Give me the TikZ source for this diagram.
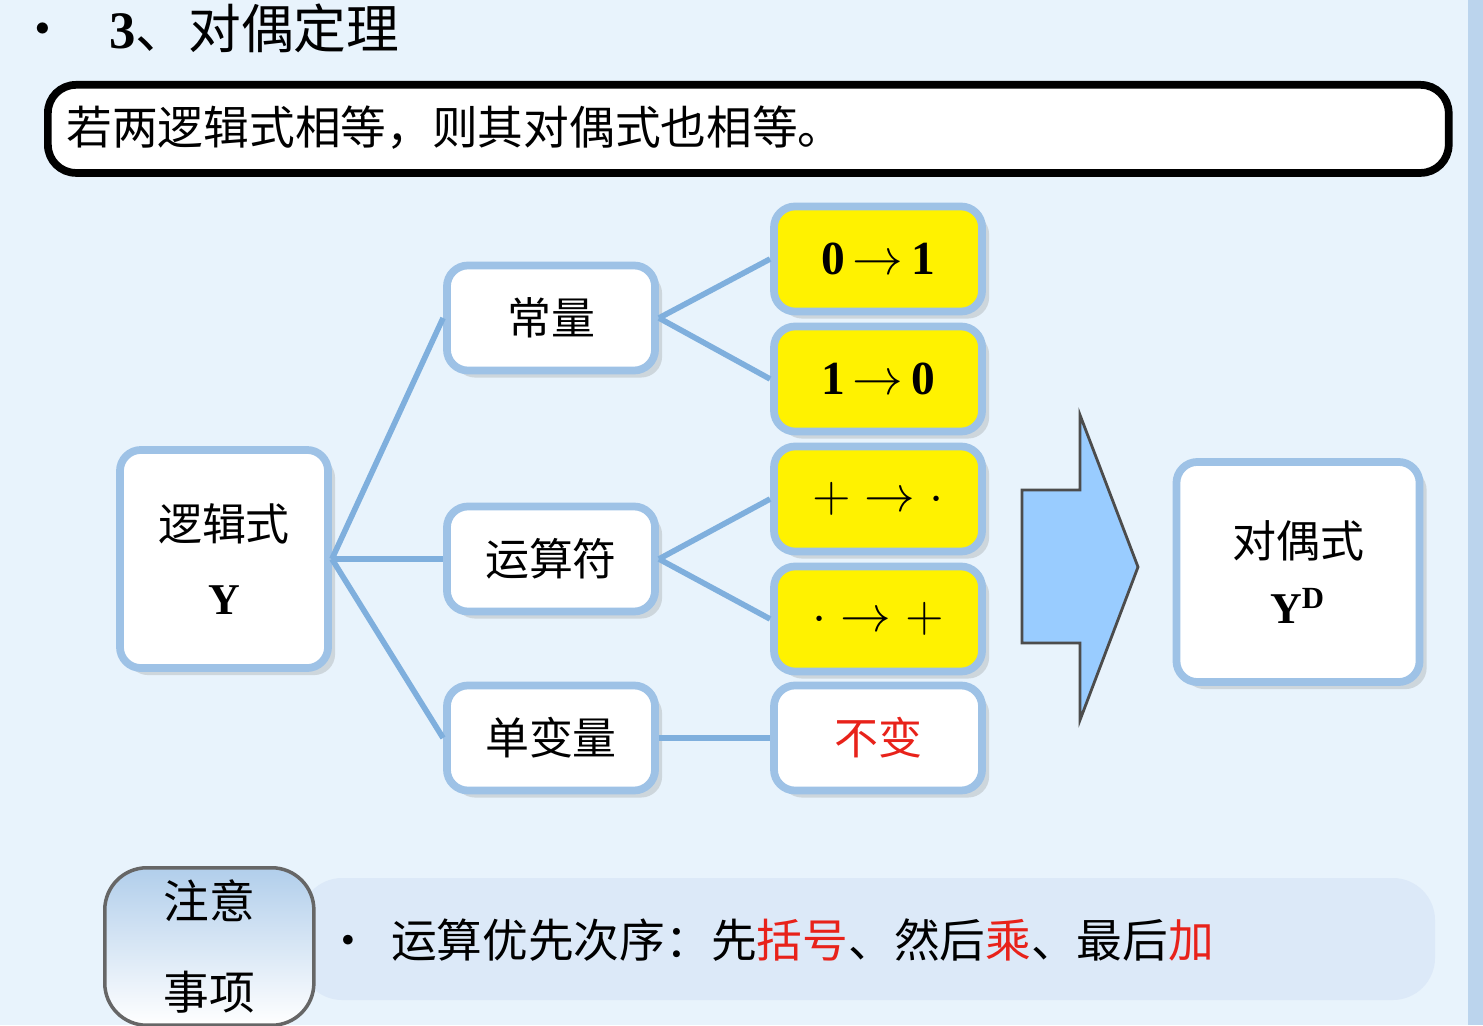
\documentclass[tikz,border=0pt]{standalone}
\usepackage{fontspec}
\setmainfont{Liberation Serif}
\newfontfamily\cjk{Noto Sans CJK SC}
\usetikzlibrary{shadows}
\definecolor{bg}{HTML}{E8F3FC}
\definecolor{bd}{HTML}{9EC2E6}
\definecolor{ln}{HTML}{7FAFDD}
\definecolor{yel}{HTML}{FFF200}
\definecolor{arr}{HTML}{99CCFF}
\definecolor{band}{HTML}{DCE9F8}
\definecolor{rd}{HTML}{E8221A}
\tikzset{
 bx/.style={draw=bd,line width=2.2pt,rounded corners=6pt,fill=white,minimum width=2.08cm,minimum height=1.05cm,font=\cjk\fontsize{12.5}{15}\selectfont,drop shadow={opacity=0.25,shadow xshift=2pt,shadow yshift=-2pt}},
 yb/.style={bx,fill=yel,font=\bfseries\fontsize{13.5}{16}\selectfont},
 cn/.style={ln,line width=1.6pt}
}
\begin{document}
\begin{tikzpicture}[x=0.01cm,y=-0.01cm]
\useasboundingbox (0,0) rectangle (1483,1025);
\fill[bg] (0,0) rectangle (1483,1025);
\fill[bd!70] (1468,0) rectangle (1483,1025);
\node[anchor=west,font=\cjk\fontsize{15}{18}\selectfont] (t) at (4,28) {•\hspace{0.4cm}{\rmfamily\bfseries 3}、对偶定理};
\node[draw=black,line width=2.2pt,rounded corners=8pt,fill=white,minimum width=14cm,minimum height=0.88cm,anchor=north west] (thm) at (44,81) {};
\node[anchor=west,font=\cjk\fontsize{13}{16}\selectfont] (thmt) at (54,128) {若两逻辑式相等，则其对偶式也相等。};
\node[bx,minimum width=2.08cm,minimum height=2.18cm,align=center] (y) at (224,559) {逻辑式\\[6pt]{\rmfamily\bfseries Y}};
\node[bx] (c) at (551,318) {常量};
\node[bx] (o) at (551,559) {运算符};
\node[bx] (v) at (551,738) {单变量};
\node[yb] (a1) at (878,259) {0\,$\rightarrow$\,1};
\node[yb] (a2) at (878,379) {1\,$\rightarrow$\,0};
\node[yb] (a3) at (878,499) {$+\rightarrow\cdot$};
\node[yb] (a4) at (878,619) {$\cdot\rightarrow+$};
\node[bx,text=rd] (a5) at (878,738) {不变};
\node[bx,minimum width=2.43cm,minimum height=2.2cm,align=center] (d) at (1298,572) {对偶式\\[4pt]{\rmfamily\bfseries Y$^{\mathbf{D}}$}};
\draw[cn] (y.east) -- (c.west);
\draw[cn] (y.east) -- (o.west);
\draw[cn] (y.east) -- (v.west);
\draw[cn] (c.east) -- (a1.west);
\draw[cn] (c.east) -- (a2.west);
\draw[cn] (o.east) -- (a3.west);
\draw[cn] (o.east) -- (a4.west);
\draw[cn] (v.east) -- (a5.west);
\draw[fill=arr,draw=black!70,line width=0.8pt] (1022,490) -- (1080,490) -- (1080,415) -- (1138,567) -- (1080,720) -- (1080,643) -- (1022,643) -- cycle;
\fill[band,rounded corners=12pt] (300,878) rectangle (1435,1000);
\node[draw=black!60,line width=1pt,rounded corners=12pt,top color=bd!80,bottom color=white,minimum width=2.09cm,minimum height=1.5cm,align=center,font=\cjk\fontsize{13}{16}\selectfont,anchor=north west] (n) at (103,866) {注意\\[10pt]事项};
\node[anchor=west,font=\cjk\fontsize{13}{16}\selectfont] (nt) at (313,940) {•\hspace{0.2cm}运算优先次序：先\textcolor{rd}{括号}、然后\textcolor{rd}{乘}、最后\textcolor{rd}{加}};
\end{tikzpicture}
\end{document}
